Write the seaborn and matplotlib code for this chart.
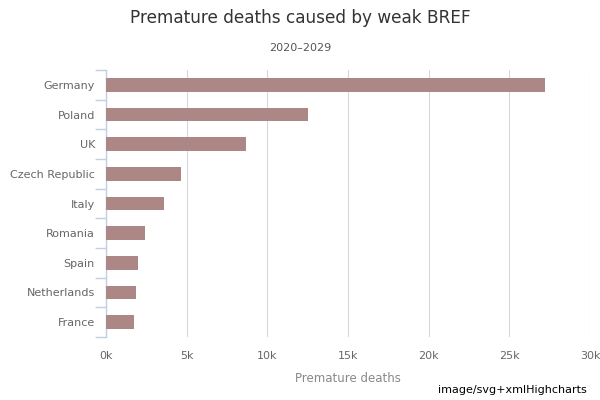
import matplotlib
matplotlib.use("Agg")
import matplotlib.pyplot as plt
import seaborn as sns
import pandas as pd
import numpy as np
from matplotlib.ticker import FixedLocator, FuncFormatter

countries = ["Germany", "Poland", "UK", "Czech Republic", "Italy", "Romania",
             "Spain", "Netherlands", "France"]
deaths = [27200, 12500, 8680, 4650, 3600, 2420, 1980, 1860, 1740]
xticks = [0, 5000, 10000, 15000, 20000, 25000, 30000]

df = pd.DataFrame({"country": countries, "deaths": deaths})

sns.set_theme(style="white")
plt.rcParams['font.family'] = ['DejaVu Sans']

fig = plt.figure(figsize=(6, 4), dpi=100)
ax = fig.add_axes([106/600, 1 - 337/400, (590-106)/600, (337-70)/400])

sns.barplot(data=df, x="deaths", y="country", orient="h", color="#ad8686",
            saturation=1, width=0.47, linewidth=0, ax=ax, zorder=3)

ax.set_xlim(0, 30000)
ax.set_ylim(len(countries) - 0.5, -0.5)
ax.set_xticks(xticks)
ax.xaxis.set_major_formatter(FuncFormatter(lambda v, p: f"{int(v/1000)}k"))
ax.grid(axis="x", color="#d4d8dc", linewidth=0.8, zorder=0)
ax.grid(axis="y", visible=False)

for s in ["top", "right", "bottom"]:
    ax.spines[s].set_visible(False)
ax.spines["left"].set_color("#c0d0e0")
ax.spines["left"].set_linewidth(1)

ax.tick_params(axis="x", length=0, labelsize=8, labelcolor="#666666", pad=10)
ax.tick_params(axis="y", which="major", left=False, length=0, labelsize=8,
               labelcolor="#666666", pad=8)
ax.yaxis.set_minor_locator(FixedLocator(np.arange(-0.5, len(countries), 1.0)))
ax.tick_params(axis="y", which="minor", left=True, length=8, color="#c0d0e0", width=1)

ax.set_ylabel("")
ax.set_xlabel("Premature deaths", fontsize=8.5, color="#888888", labelpad=8)

fig.text(0.5, 1 - 18/400, "Premature deaths caused by weak BREF", ha="center", va="center",
         fontsize=12.2, color="#333333")
fig.text(0.5, 1 - 48/400, "2020\u20132029", ha="center", va="center",
         fontsize=8, color="#555555")
fig.text(587/600, 1 - 390/400, "image/svg+xmlHighcharts", ha="right", va="center",
         fontsize=8, color="#000000")

fig.savefig("out.png", dpi=100)
